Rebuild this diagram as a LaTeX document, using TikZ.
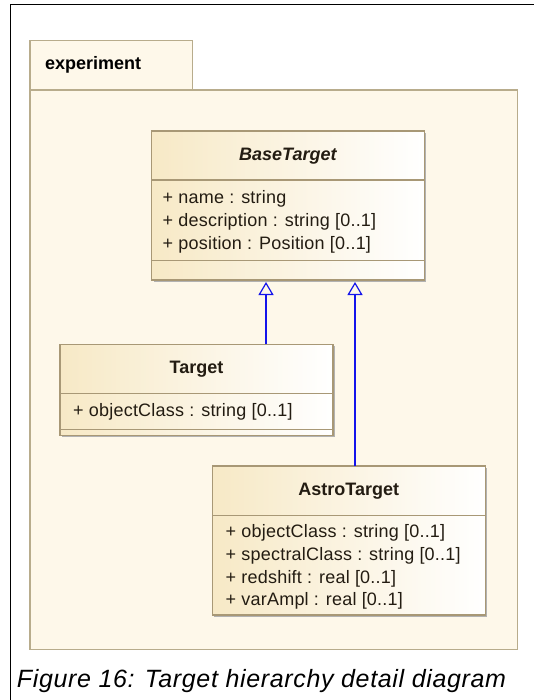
\documentclass[tikz,border=0pt]{standalone}
\usepackage{fontspec}
\setmainfont{Liberation Sans}
\newfontfamily\attrfont[LetterSpace=1.2]{Liberation Sans}
\newfontfamily\capfont[LetterSpace=2.6]{Liberation Sans}
\usetikzlibrary{arrows.meta,shadows}
\definecolor{pkgfill}{RGB}{254,248,234}
\definecolor{pkgline}{RGB}{184,172,140}
\definecolor{clsfill}{RGB}{247,233,198}
\definecolor{clsline}{RGB}{168,152,118}
\definecolor{txt}{RGB}{35,28,18}
\definecolor{genblue}{RGB}{20,20,235}
\begin{document}
\begin{tikzpicture}[x=1pt,y=-1pt,
  pkg/.style={draw=pkgline, fill=pkgfill, line width=1.3pt},
  cls/.style={draw=clsline, line width=1.3pt, left color=clsfill, right color=white,
    drop shadow={shadow xshift=2pt, shadow yshift=-2pt, fill=black!30, opacity=1},
    anchor=north west, inner sep=0pt, outer sep=0pt},
  div/.style={draw=clsline, line width=1.3pt},
  ctitle/.style={anchor=base, font=\fontsize{18}{20}\selectfont\bfseries, text=txt, inner sep=0pt},
  attr/.style={anchor=base west, font=\attrfont\fontsize{18}{20}\selectfont, text=txt, inner sep=0pt},
  gen/.style={draw=genblue, line width=1.2pt, shorten >=2pt,
    -{Triangle[open, length=13pt, width=15pt, line width=1.2pt]}}
]
\useasboundingbox (0,0) rectangle (533,700);
\fill[white] (0,0) rectangle (533,700);
% outer frame
\draw[black, line width=1.3pt] (10.7,712) -- (10.7,4.3) -- (545,4.3);
% package
\node[pkg, anchor=north west, minimum width=162.4pt, minimum height=49.3pt, inner sep=0pt] (tab) at (29.3,40) {};
\node[pkg, anchor=north west, minimum width=487.4pt, minimum height=559.7pt, inner sep=0pt] (pkgbody) at (29.3,89.3) {};
\node[anchor=base west, font=\fontsize{18}{20}\selectfont\bfseries, inner sep=0pt] (pkgname) at (45,69.3) {experiment};
% BaseTarget
\node[cls, minimum width=272.6pt, minimum height=149pt] (base) at (151.6,131) {};
\draw[div] (base.west |- 0,180) -- (base.east |- 0,180);
\draw[div] (base.west |- 0,260.7) -- (base.east |- 0,260.7);
\node[ctitle, font=\fontsize{18}{20}\selectfont\bfseries\itshape] (basetitle) at (287.9,161) {BaseTarget};
\node[attr] (b1) at (162.5,203.5) {+ name : string};
\node[attr] (b2) at (162.5,226.2) {+ description : string [0..1]};
\node[attr] (b3) at (162.5,249.5) {+ position : Position [0..1]};
% Target
\node[cls, minimum width=273pt, minimum height=91pt] (tgt) at (60,344.3) {};
\draw[div] (tgt.west |- 0,393.3) -- (tgt.east |- 0,393.3);
\draw[div] (tgt.west |- 0,429.3) -- (tgt.east |- 0,429.3);
\node[ctitle] (tgttitle) at (196.5,373.3) {Target};
\node[attr] (t1) at (73,416.7) {+ objectClass : string [0..1]};
% AstroTarget
\node[cls, minimum width=273pt, minimum height=149pt] (astro) at (212.3,466) {};
\draw[div] (astro.west |- 0,515.3) -- (astro.east |- 0,515.3);
\node[ctitle] (astrotitle) at (348.8,495.7) {AstroTarget};
\node[attr] (a1) at (225.5,537.7) {+ objectClass : string [0..1]};
\node[attr] (a2) at (225.5,560.3) {+ spectralClass : string [0..1]};
\node[attr] (a3) at (225.5,583.2) {+ redshift : real [0..1]};
\node[attr] (a4) at (225.5,605.5) {+ varAmpl : real [0..1]};
% generalizations
\coordinate (gx1) at (266,0);
\coordinate (gx2) at (355,0);
\draw[gen] (tgt.north -| gx1) -- (base.south -| gx1);
\draw[gen] (astro.north -| gx2) -- (base.south -| gx2);
% caption
\node[anchor=base west, font=\capfont\fontsize{25}{28}\selectfont\itshape, inner sep=0pt] (caption) at (16.7,687.7) {Figure 16: Target hierarchy detail diagram};
\end{tikzpicture}
\end{document}
